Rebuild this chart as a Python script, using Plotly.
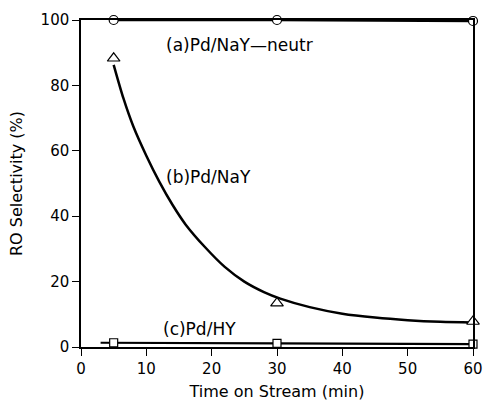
import plotly.graph_objects as go

# Data
time_pts = [5, 30, 60]
sel_a = [100, 100, 99.7]          # (a) Pd/NaY-neutr
sel_b = [88.3, 13.4, 7.8]         # (b) Pd/NaY
sel_c = [1.3, 1.1, 0.9]           # (c) Pd/HY

# fitted curve for (b)
curve_b_x = [5, 6.5, 8, 10, 12, 14, 16, 19, 22, 25, 28, 30.5, 35, 40, 45, 50, 55, 60]
curve_b_y = [86.3, 76, 67.5, 58.5, 50.5, 43.5, 37.5, 30.5, 24.5, 20, 16.8, 14.8,
             12.2, 10.2, 9.0, 8.2, 7.7, 7.5]

# line for (c) starts slightly before the first point
line_c_x = [3, 5, 30, 60]
line_c_y = [1.3, 1.3, 1.1, 0.9]

labels = ["(a)Pd/NaY\u2014neutr", "(b)Pd/NaY", "(c)Pd/HY"]
label_x = [12.7, 12.7, 12.3]
label_y = [92.3, 52, 5.6]

FONT = "DejaVu Sans"

fig = go.Figure()

fig.add_trace(go.Scatter(x=time_pts, y=sel_a, mode="lines+markers",
                         line=dict(color="black", width=2.5),
                         marker=dict(symbol="circle", size=9, color="white",
                                     line=dict(color="black", width=1.2)),
                         cliponaxis=False, showlegend=False))

fig.add_trace(go.Scatter(x=curve_b_x, y=curve_b_y, mode="lines",
                         line=dict(color="black", width=2.5, shape="spline", smoothing=0.8),
                         cliponaxis=False, showlegend=False))
fig.add_trace(go.Scatter(x=time_pts, y=sel_b, mode="markers",
                         marker=dict(symbol="triangle-up", size=11, color="white",
                                     line=dict(color="black", width=1.2)),
                         cliponaxis=False, showlegend=False))

fig.add_trace(go.Scatter(x=line_c_x, y=line_c_y, mode="lines",
                         line=dict(color="black", width=2.2),
                         cliponaxis=False, showlegend=False))
fig.add_trace(go.Scatter(x=time_pts, y=sel_c, mode="markers",
                         marker=dict(symbol="square", size=8, color="white",
                                     line=dict(color="black", width=1.2)),
                         cliponaxis=False, showlegend=False))

for t, xx, yy in zip(labels, label_x, label_y):
    fig.add_annotation(x=xx, y=yy, text=t, showarrow=False, xanchor="left",
                       yanchor="middle", font=dict(family=FONT, size=17, color="black"))

fig.update_layout(
    width=483, height=401,
    margin=dict(l=81, r=10, t=20, b=54),
    paper_bgcolor="white", plot_bgcolor="white",
    font=dict(family=FONT, size=15, color="black"),
)
fig.update_xaxes(range=[0, 60], tickvals=[0, 10, 20, 30, 40, 50, 60],
                 ticks="outside", ticklen=7, tickwidth=1.2, tickcolor="black",
                 showline=True, linecolor="black", linewidth=1.5, mirror=True,
                 showgrid=False, zeroline=False, automargin=False,
                 tickfont=dict(family=FONT, size=15),
                 title=dict(text="Time on Stream (min)", standoff=20,
                            font=dict(family=FONT, size=16)))
fig.update_yaxes(range=[0, 100], tickvals=[0, 20, 40, 60, 80, 100],
                 ticks="outside", ticklen=7, tickwidth=1.2, tickcolor="black",
                 showline=True, linecolor="black", linewidth=1.5, mirror=True,
                 showgrid=False, zeroline=False, automargin=False,
                 tickfont=dict(family=FONT, size=15),
                 title=dict(text="RO Selectivity (%)", standoff=14,
                            font=dict(family=FONT, size=16)))

fig.write_html("out.html", config={"displayModeBar": False},
               post_script="document.body.style.margin='0';")
